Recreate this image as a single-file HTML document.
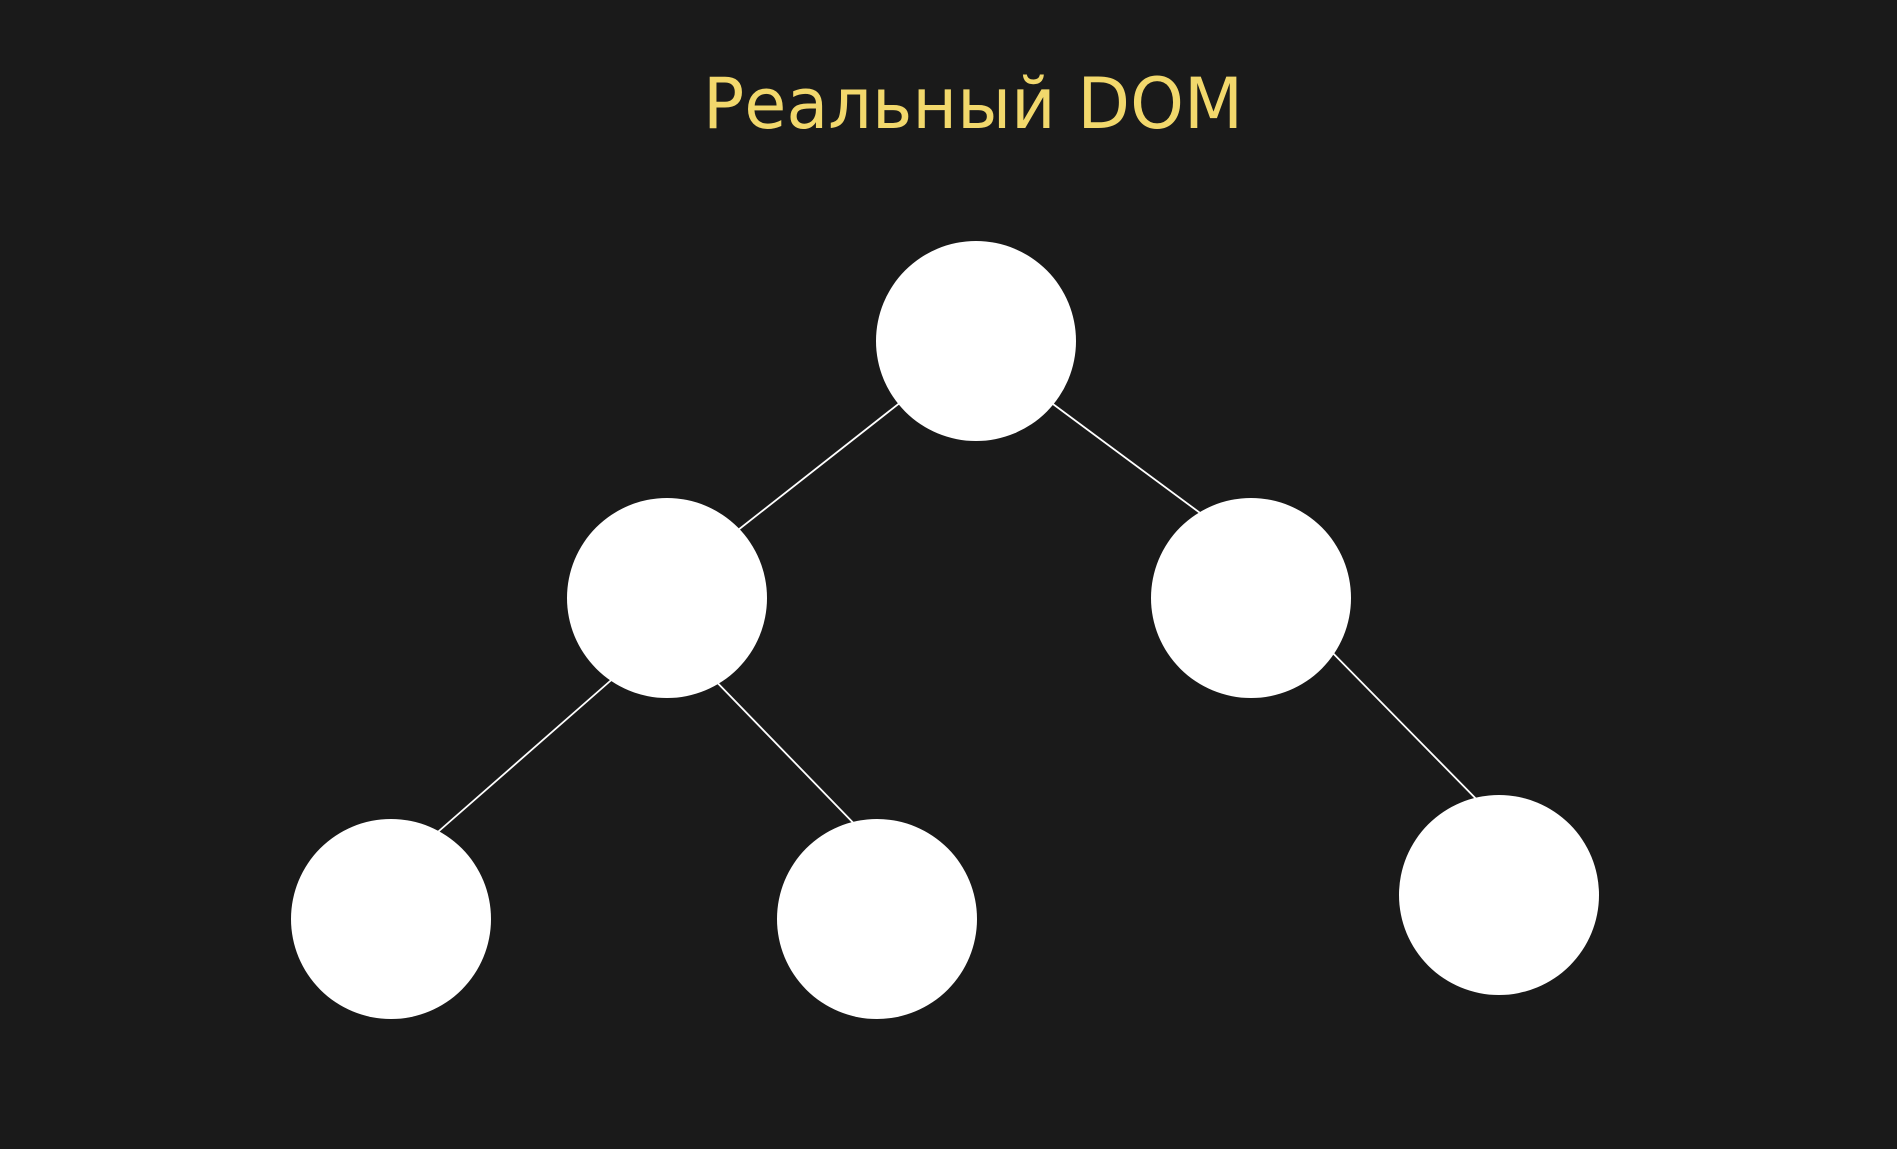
<!DOCTYPE html>
<html><head><meta charset="utf-8"><style>
html,body{margin:0;padding:0;background:#1a1a1a;width:1897px;height:1149px;overflow:hidden}
</style></head><body>
<svg width="1897" height="1149" viewBox="0 0 1897 1149" xmlns="http://www.w3.org/2000/svg">
<rect width="1897" height="1149" fill="#1a1a1a"/>
<text x="703" y="128" textLength="540" lengthAdjust="spacingAndGlyphs" font-family="DejaVu Sans, Liberation Sans, sans-serif" font-size="70" fill="#f2d86c">Реальный DOM</text>
<g stroke="#ffffff" stroke-width="1.8">
<line x1="920" y1="387" x2="719" y2="545"/>
<line x1="1034" y1="390" x2="1219" y2="527"/>
<line x1="625" y1="668" x2="423" y2="845"/>
<line x1="705" y1="670" x2="866" y2="836"/>
<line x1="1320" y1="640" x2="1488" y2="811"/>
</g>
<g fill="#ffffff">
<circle cx="976" cy="341" r="100"/>
<circle cx="667" cy="598" r="100"/>
<circle cx="1251" cy="598" r="100"/>
<circle cx="391" cy="919" r="100"/>
<circle cx="877" cy="919" r="100"/>
<circle cx="1499" cy="895" r="100"/>
</g>
</svg>
</body></html>
